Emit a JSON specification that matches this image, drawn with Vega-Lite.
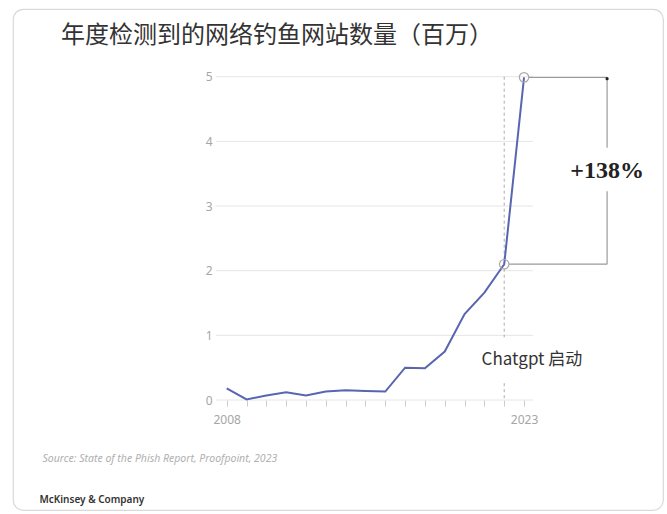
{
  "$schema": "https://vega.github.io/schema/vega-lite/v6.json",
  "width": 650,
  "height": 501,
  "autosize": {"type": "none"},
  "padding": {"left": 13, "top": 9, "right": 4, "bottom": 4},
  "background": "white",
  "title": {
    "text": "年度检测到的网络钓鱼网站数量（百万）",
    "anchor": "start",
    "frame": "group",
    "offset": -39,
    "dx": 48,
    "font": "Noto Sans CJK SC",
    "fontSize": 24,
    "fontWeight": "normal",
    "color": "#333333"
  },
  "config": {
    "view": {"stroke": "#d9d9d9", "strokeWidth": 1.2, "cornerRadius": 10}
  },
  "datasets": {
    "series": [
      {"year": 2008, "value": 0.18},
      {"year": 2009, "value": 0.01},
      {"year": 2010, "value": 0.07},
      {"year": 2011, "value": 0.12},
      {"year": 2012, "value": 0.07},
      {"year": 2013, "value": 0.13},
      {"year": 2014, "value": 0.15},
      {"year": 2015, "value": 0.14},
      {"year": 2016, "value": 0.13},
      {"year": 2017, "value": 0.5},
      {"year": 2018, "value": 0.49},
      {"year": 2019, "value": 0.75},
      {"year": 2020, "value": 1.33},
      {"year": 2021, "value": 1.66},
      {"year": 2022, "value": 2.1},
      {"year": 2023, "value": 4.99}
    ],
    "grid": [
      {"g": 0}, {"g": 1}, {"g": 2}, {"g": 3}, {"g": 4}, {"g": 5}
    ],
    "dash": [
      {"x": 2022, "y1": 5, "y2": 0.97},
      {"x": 2022, "y1": 0.26, "y2": 0}
    ],
    "bracket": [
      {"x1": 2023.25, "x2": 2027.19, "y1": 4.99, "y2": 4.99},
      {"x1": 2022.25, "x2": 2027.19, "y1": 2.1, "y2": 2.1},
      {"x1": 2027.19, "x2": 2027.19, "y1": 4.97, "y2": 3.9},
      {"x1": 2027.19, "x2": 2027.19, "y1": 3.23, "y2": 2.1}
    ],
    "marks": [
      {"year": 2022, "value": 2.1},
      {"year": 2023, "value": 4.99}
    ],
    "dot": [{"x": 2027.19, "y": 4.97}],
    "pct": [{"x": 2027.19, "y": 3.54, "label": "+138%"}],
    "launch": [{"x": 2023.4, "y": 0.62, "label": "Chatgpt 启动"}]
  },
  "layer": [
    {
      "data": {"name": "grid"},
      "mark": {"type": "rule", "color": "#e6e6e6", "strokeWidth": 1},
      "encoding": {
        "x": {"datum": 2007.46, "type": "quantitative"},
        "x2": {"datum": 2023.45},
        "y": {"field": "g", "type": "quantitative"}
      }
    },
    {
      "data": {"name": "dash"},
      "mark": {"type": "rule", "color": "#aaaaaa", "strokeWidth": 1, "strokeDash": [3, 3]},
      "encoding": {
        "x": {"field": "x", "type": "quantitative"},
        "y": {"field": "y1", "type": "quantitative"},
        "y2": {"field": "y2"}
      }
    },
    {
      "data": {"name": "bracket"},
      "mark": {"type": "rule", "color": "#9a9a9a", "strokeWidth": 1.2},
      "encoding": {
        "x": {"field": "x1", "type": "quantitative"},
        "x2": {"field": "x2"},
        "y": {"field": "y1", "type": "quantitative"},
        "y2": {"field": "y2"}
      }
    },
    {
      "data": {"name": "series"},
      "mark": {"type": "line", "color": "#5865b0", "strokeWidth": 2},
      "encoding": {
        "x": {
          "field": "year",
          "type": "quantitative",
          "scale": {"domain": [1997.22, 2030.01], "nice": false, "zero": false},
          "axis": {
            "offset": -110,
            "values": [2008, 2009, 2010, 2011, 2012, 2013, 2014, 2015, 2016, 2017, 2018, 2019, 2020, 2021, 2022, 2023],
            "format": "d",
            "labelExpr": "datum.value == 2008 || datum.value == 2023 ? datum.label : ''",
            "grid": false,
            "domain": false,
            "tickColor": "#cccccc",
            "tickSize": 6,
            "labelColor": "#a6a6a6",
            "labelFontSize": 12,
            "labelFont": "Noto Sans",
            "labelPadding": 8,
            "labelFlush": false,
            "labelOverlap": false,
            "title": "Source: State of the Phish Report, Proofpoint, 2023",
            "titleX": 29,
            "titleY": 58,
            "titleAlign": "left",
            "titleBaseline": "middle",
            "titleFont": "Noto Sans",
            "titleFontStyle": "italic",
            "titleFontWeight": "normal",
            "titleFontSize": 10.5,
            "titleColor": "#b0b0b0"
          }
        },
        "y": {
          "field": "value",
          "type": "quantitative",
          "scale": {"domain": [-1.701, 6.047], "nice": false, "zero": false},
          "axis": {
            "offset": -203,
            "values": [0, 1, 2, 3, 4, 5],
            "format": "d",
            "grid": false,
            "domain": false,
            "ticks": false,
            "labelPadding": 4,
            "labelColor": "#a6a6a6",
            "labelFontSize": 12,
            "labelFont": "Noto Sans",
            "title": "McKinsey & Company",
            "titleAngle": 0,
            "titleX": -177,
            "titleY": 490,
            "titleAlign": "left",
            "titleBaseline": "middle",
            "titleFont": "Noto Sans",
            "titleFontSize": 10,
            "titleFontWeight": 600,
            "titleColor": "#333333"
          }
        }
      }
    },
    {
      "data": {"name": "marks"},
      "mark": {"type": "point", "shape": "circle", "filled": false, "size": 90, "stroke": "#a8a8a8", "strokeWidth": 1.2, "opacity": 1},
      "encoding": {
        "x": {"field": "year", "type": "quantitative"},
        "y": {"field": "value", "type": "quantitative"}
      }
    },
    {
      "data": {"name": "dot"},
      "mark": {"type": "point", "shape": "circle", "filled": true, "size": 10, "color": "#222222", "opacity": 1},
      "encoding": {
        "x": {"field": "x", "type": "quantitative"},
        "y": {"field": "y", "type": "quantitative"}
      }
    },
    {
      "data": {"name": "pct"},
      "mark": {"type": "text", "font": "Liberation Serif", "fontSize": 24, "fontWeight": "bold", "color": "#222222", "align": "center", "baseline": "middle"},
      "encoding": {
        "x": {"field": "x", "type": "quantitative"},
        "y": {"field": "y", "type": "quantitative"},
        "text": {"field": "label"}
      }
    },
    {
      "data": {"name": "launch"},
      "mark": {"type": "text", "font": "Noto Sans CJK SC", "fontSize": 17, "color": "#333333", "align": "center", "baseline": "middle"},
      "encoding": {
        "x": {"field": "x", "type": "quantitative"},
        "y": {"field": "y", "type": "quantitative"},
        "text": {"field": "label"}
      }
    }
  ]
}
